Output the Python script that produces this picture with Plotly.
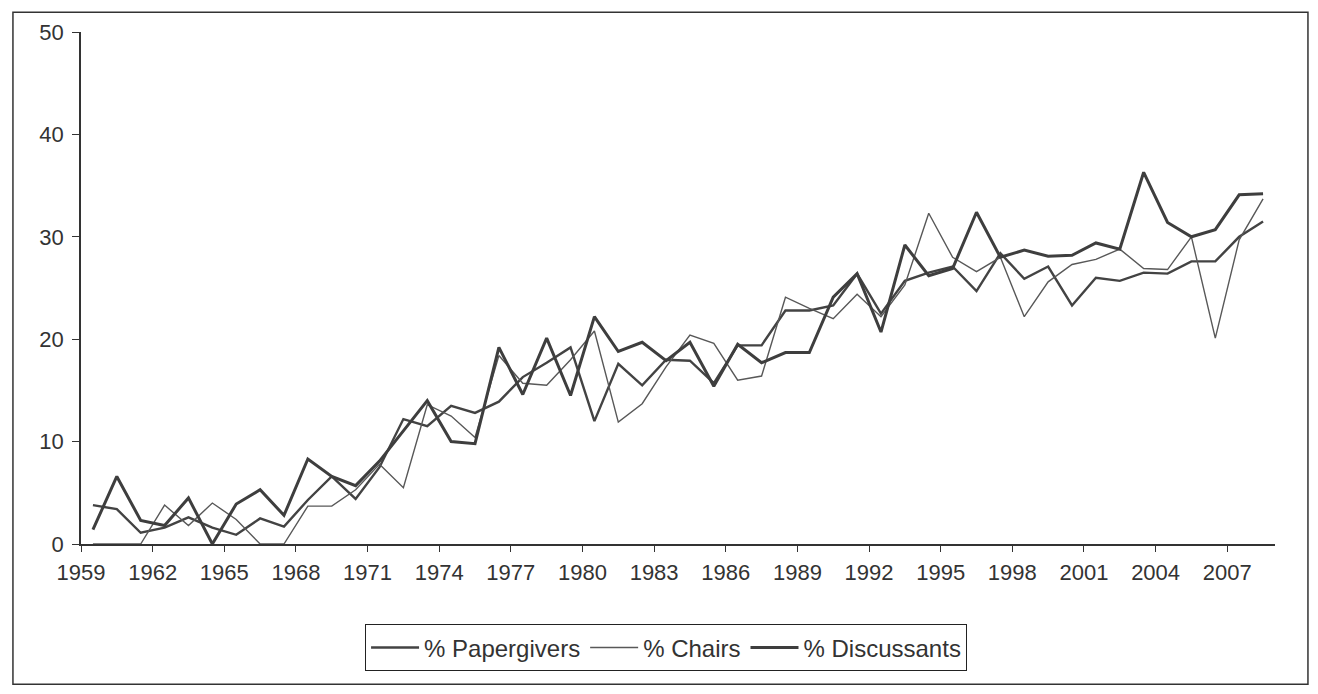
import plotly.graph_objects as go

years = list(range(1959, 2009))

papergivers = [3.8, 3.4, 1.1, 1.6, 2.6, 1.6, 0.9, 2.5, 1.7, 4.3, 6.6,
               4.4, 7.5, 12.2, 11.5, 13.5, 12.8, 13.9, 16.3, 17.7, 19.2,
               12.0, 17.6, 15.5, 18.0, 17.9, 15.7, 19.4, 19.4, 22.8, 22.8,
               23.3, 26.4, 22.5, 25.7, 26.5, 27.1, 24.7, 28.4, 25.9, 27.1,
               23.3, 26.0, 25.7, 26.5, 26.4, 27.6, 27.6, 30.0, 31.5]

chairs = [0, 0, 0, 3.8, 1.8, 4.0, 2.4, 0, 0, 3.7, 3.7,
          5.3, 7.8, 5.5, 13.6, 12.5, 10.4, 18.4, 15.7, 15.5, 18.0,
          20.8, 11.9, 13.7, 17.3, 20.4, 19.6, 16.0, 16.4, 24.1, 23.0,
          22.0, 24.4, 22.2, 25.3, 32.3, 28.0, 26.6, 28.0, 22.2, 25.6,
          27.3, 27.8, 28.8, 26.9, 26.8, 30.0, 20.1, 29.7, 33.7]

discussants = [1.4, 6.6, 2.3, 1.8, 4.5, 0.0, 3.9, 5.3, 2.8, 8.3, 6.6,
               5.7, 8.1, 11.1, 14.0, 10.0, 9.8, 19.2, 14.6, 20.1, 14.5,
               22.2, 18.8, 19.7, 17.9, 19.7, 15.4, 19.5, 17.7, 18.7, 18.7,
               24.1, 26.4, 20.7, 29.2, 26.2, 26.9, 32.4, 28.0, 28.7, 28.1,
               28.2, 29.4, 28.8, 36.3, 31.4, 30.0, 30.7, 34.1, 34.2]

tick_years = list(range(1959, 2008, 3))
tick_labels = [str(y) for y in tick_years]
y_ticks = [0, 10, 20, 30, 40, 50]

FONT = "Liberation Sans, Arial, sans-serif"
AX = "#333333"

fig = go.Figure()
fig.add_trace(go.Scatter(x=years, y=papergivers, mode="lines", name="% Papergivers",
                         line=dict(color="#434343", width=2.4)))
fig.add_trace(go.Scatter(x=years, y=chairs, mode="lines", name="% Chairs",
                         line=dict(color="#585858", width=1.4)))
fig.add_trace(go.Scatter(x=years, y=discussants, mode="lines", name="% Discussants",
                         line=dict(color="#3e3e3e", width=3)))

# plot area in the page: x 81..1275, y 29..544 (figure sits at an 8px body offset)
fig.update_layout(
    width=1302, height=678,
    margin=dict(l=73, r=35, t=21, b=142),
    paper_bgcolor="white", plot_bgcolor="white",
    font=dict(family=FONT, size=22, color=AX),
    showlegend=True,
    legend=dict(orientation="h", x=0.49, xanchor="center", y=-0.203, yanchor="middle",
                bordercolor="#222222", borderwidth=1, font=dict(size=24),
                itemwidth=48, tracegroupgap=0),
    xaxis=dict(range=[1958.5, 2008.5], tickmode="array",
               tickvals=[y - 0.5 for y in tick_years], ticktext=tick_labels,
               showgrid=False, zeroline=False, showline=True, linecolor=AX,
               linewidth=1.5, ticks="outside", ticklen=6, tickcolor=AX,
               tickfont=dict(size=22), ticklabelstandoff=2),
    yaxis=dict(range=[0, 50], tickvals=y_ticks, showgrid=False, zeroline=False,
               showline=True, linecolor=AX, linewidth=1.5, ticks="outside",
               ticklen=7, tickcolor=AX, tickfont=dict(size=22), ticklabelstandoff=4),
    shapes=[dict(type="rect", xref="paper", yref="paper",
                 x0=-0.057, x1=1.0276, y0=-0.2738, y1=1.0388,
                 line=dict(color=AX, width=1.5))],
)

fig.write_html("out.html")
